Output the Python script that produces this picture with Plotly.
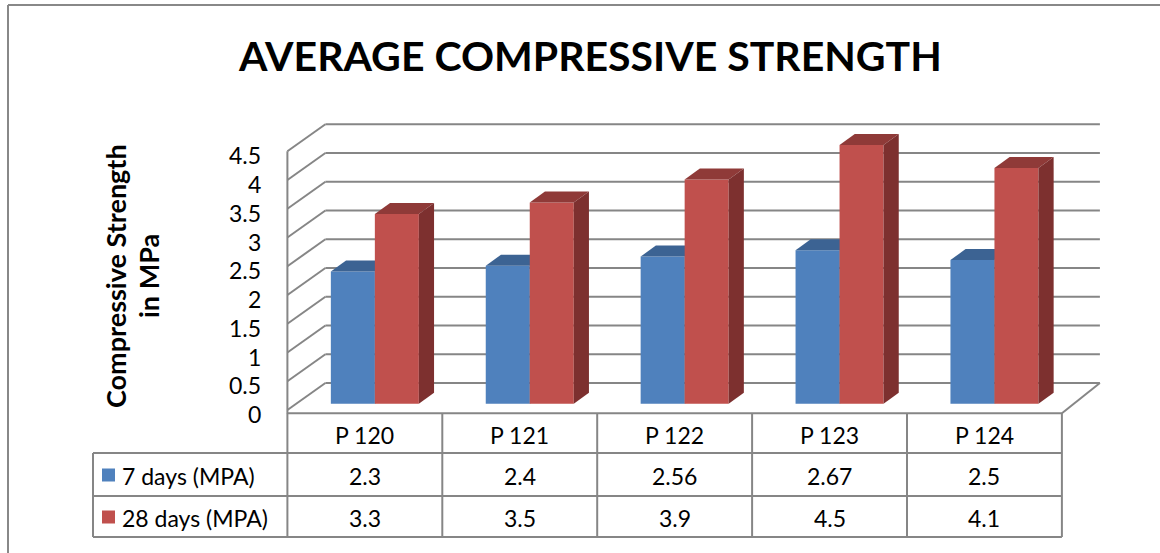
import plotly.graph_objects as go

# ---- data ----
categories = ["P 120", "P 121", "P 122", "P 123", "P 124"]
series_names = ["7 days (MPA)", "28 days (MPA)"]
days7 = [2.3, 2.4, 2.56, 2.67, 2.5]
days28 = [3.3, 3.5, 3.9, 4.5, 4.1]
value_labels7 = ["2.3", "2.4", "2.56", "2.67", "2.5"]
value_labels28 = ["3.3", "3.5", "3.9", "4.5", "4.1"]
y_ticks = [0, 0.5, 1, 1.5, 2, 2.5, 3, 3.5, 4, 4.5]
y_tick_labels = ["0", "0.5", "1", "1.5", "2", "2.5", "3", "3.5", "4", "4.5"]

W, H = 1160, 553
FONT = "Lato, Liberation Sans, Arial"
GRID = "#868686"

front_colors = ["#4F81BD", "#C0504D"]
top_colors = ["#3C6393", "#8F3A38"]
side_colors = ["#355883", "#7D302F"]

# axis scaling: category index on x, MPa on y
X0, XS = 364.85, 154.9          # pixel of category 0, pixels per category
Y0, YS = 410.0, 57.5            # pixel of value 0, pixels per MPa
x_range = [(0 - X0) / XS, (W - X0) / XS]
y_range = [(Y0 - H) / YS, Y0 / YS]

# oblique depth of the plot box (full depth)
DX, DY = 38 / XS, 27 / YS
# bars: front offset and depth
BX0, BY0 = 10 / XS, 6.2 / YS
BDX, BDY = 15.2 / XS, 11.0 / YS
BW = 44 / XS
FLOOR = -0.055

fig = go.Figure()

# back-wall and side-wall gridlines
shapes = []
for v in y_ticks:
    shapes.append(dict(type="line", xref="x", yref="y", x0=-0.5, y0=v,
                       x1=-0.5 + DX, y1=v + DY, line=dict(color=GRID, width=2)))
    shapes.append(dict(type="line", xref="x", yref="y", x0=-0.5 + DX, y0=v + DY,
                       x1=4.5 + DX, y1=v + DY, line=dict(color=GRID, width=2)))
# front-left edge, floor front edge, floor right edge
shapes.append(dict(type="line", xref="x", yref="y", x0=-0.5, y0=FLOOR,
                   x1=-0.5, y1=4.5, line=dict(color=GRID, width=2)))
shapes.append(dict(type="line", xref="x", yref="y", x0=-0.5, y0=FLOOR,
                   x1=4.5, y1=FLOOR, line=dict(color=GRID, width=2)))
shapes.append(dict(type="line", xref="x", yref="y", x0=4.5, y0=FLOOR,
                   x1=4.5 + DX, y1=DY, line=dict(color=GRID, width=2)))


def face(xs, ys, color):
    fig.add_trace(go.Scatter(x=xs + [xs[0]], y=ys + [ys[0]], mode="lines",
                             fill="toself", fillcolor=color,
                             line=dict(width=0, color=color),
                             hoverinfo="skip", showlegend=False))


for i in range(len(categories)):
    for s, vals in enumerate([days7, days28]):
        v = vals[i]
        xl = i + BX0 + (s - 1) * BW
        xr = xl + BW
        yb = BY0
        yt = BY0 + v
        # front face
        face([xl, xr, xr, xl], [yb, yb, yt, yt], front_colors[s])
        # top face
        face([xl, xr, xr + BDX, xl + BDX], [yt, yt, yt + BDY, yt + BDY], top_colors[s])
        # right side face
        face([xr, xr + BDX, xr + BDX, xr], [yb, yb + BDY, yt + BDY, yt], side_colors[s])

annotations = []
# value-axis labels
for v, lab in zip(y_ticks, y_tick_labels):
    annotations.append(dict(xref="paper", yref="y", x=263 / W, y=v, yshift=-4,
                            text=lab, showarrow=False, xanchor="right",
                            yanchor="middle", font=dict(family=FONT, size=23, color="#000")))

# title
annotations.append(dict(xref="paper", yref="paper", x=590 / W, y=1 - 56 / H,
                        text="<b>AVERAGE COMPRESSIVE STRENGTH</b>", showarrow=False,
                        xanchor="center", yanchor="middle",
                        font=dict(family=FONT, size=41, color="#000")))
# value-axis title
annotations.append(dict(xref="paper", yref="paper", x=115 / W, y=1 - 276 / H,
                        text="<b>Compressive Strength</b>", showarrow=False,
                        textangle=-90, xanchor="center", yanchor="middle",
                        font=dict(family=FONT, size=27, color="#000")))
annotations.append(dict(xref="paper", yref="paper", x=148 / W, y=1 - 276 / H,
                        text="<b>in MPa</b>", showarrow=False,
                        textangle=-90, xanchor="center", yanchor="middle",
                        font=dict(family=FONT, size=27, color="#000")))

# data table under the plot
T_TOP, R1, R2, T_BOT = 413, 453, 496, 537
T_LEFT = 93


def py(p):
    return 1 - p / H


def px(p):
    return p / W


TL = dict(color=GRID, width=2)
for i in range(len(categories) + 1):
    xb = i - 0.5
    shapes.append(dict(type="line", xref="x", yref="paper", x0=xb, x1=xb,
                       y0=py(T_TOP), y1=py(T_BOT), line=TL))
for yp in (R1, R2, T_BOT):
    shapes.append(dict(type="line", xref="paper", yref="paper", x0=px(T_LEFT),
                       x1=px(X0 + 4.5 * XS), y0=py(yp), y1=py(yp), line=TL))
shapes.append(dict(type="line", xref="paper", yref="paper", x0=px(T_LEFT), x1=px(T_LEFT),
                   y0=py(R1), y1=py(T_BOT), line=TL))

cell_font = dict(family=FONT, size=23, color="#000")
for i, c in enumerate(categories):
    annotations.append(dict(xref="x", yref="paper", x=i, y=py((T_TOP + R1) / 2 + 2),
                            text=c, showarrow=False, font=cell_font,
                            xanchor="center", yanchor="middle"))
    annotations.append(dict(xref="x", yref="paper", x=i, y=py((R1 + R2) / 2 + 1),
                            text=value_labels7[i], showarrow=False, font=cell_font,
                            xanchor="center", yanchor="middle"))
    annotations.append(dict(xref="x", yref="paper", x=i, y=py((R2 + T_BOT) / 2 + 1),
                            text=value_labels28[i], showarrow=False, font=cell_font,
                            xanchor="center", yanchor="middle"))

for k, (name, col) in enumerate(zip(series_names, front_colors)):
    yc = (R1 + R2) / 2 if k == 0 else (R2 + T_BOT) / 2
    shapes.append(dict(type="rect", xref="paper", yref="paper", x0=px(102), x1=px(115),
                       y0=py(yc - 6), y1=py(yc + 7), fillcolor=col, line=dict(width=0)))
    annotations.append(dict(xref="paper", yref="paper", x=px(120), y=py(yc + 1),
                            text=name, showarrow=False, xanchor="left",
                            yanchor="middle", font=cell_font))

# chart frame (left and top edges)
shapes.append(dict(type="line", xref="paper", yref="paper", x0=px(8), x1=px(8),
                   y0=0, y1=py(5), line=dict(color="#888888", width=2)))
shapes.append(dict(type="line", xref="paper", yref="paper", x0=px(8), x1=1,
                   y0=py(5), y1=py(5), line=dict(color="#888888", width=2)))

for sh in shapes:
    sh.setdefault("layer", "below")

fig.update_layout(
    width=W, height=H, margin=dict(l=0, r=0, t=0, b=0),
    paper_bgcolor="white", plot_bgcolor="white",
    xaxis=dict(range=x_range, visible=False, fixedrange=True),
    yaxis=dict(range=y_range, visible=False, fixedrange=True),
    shapes=shapes, annotations=annotations, showlegend=False,
)

fig.write_html("out.html")
